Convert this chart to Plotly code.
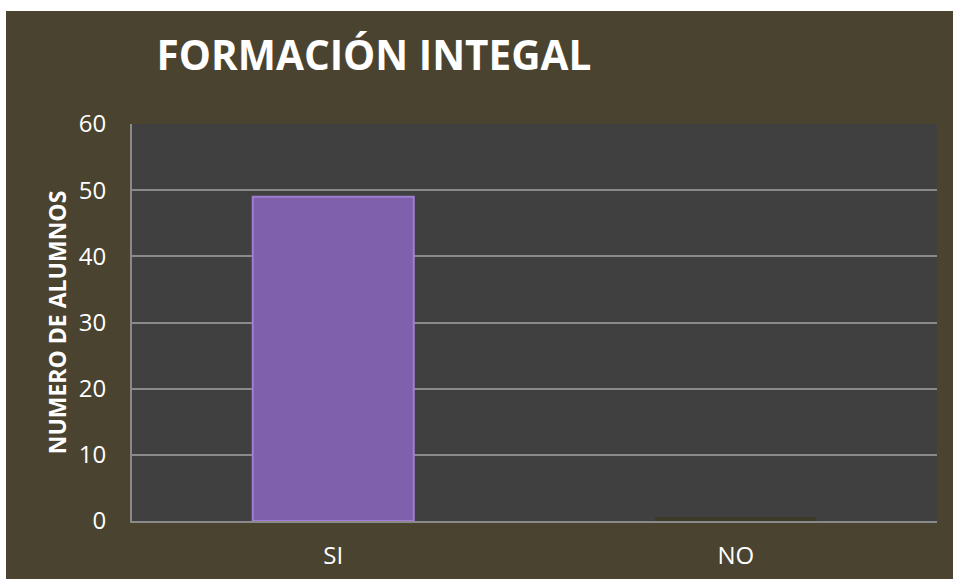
import plotly.graph_objects as go

categories = ["SI", "NO"]
alumnos = [49, 0]
y_ticks = [0, 10, 20, 30, 40, 50, 60]

OLIVE = "#4a4330"
PLOT_BG = "#404040"
GRID = "#8a8a8a"

fig = go.Figure()
fig.add_trace(go.Bar(
    x=categories,
    y=alumnos,
    marker=dict(
        color=["#7f60ad", "#3e3d27"],
        line=dict(color=["#a07ed3", "#3a3a26"], width=[2, 8]),
    ),
    width=0.4,
))

fig.update_layout(
    width=947,
    height=568,
    paper_bgcolor=OLIVE,
    plot_bgcolor=PLOT_BG,
    margin=dict(l=126, r=16, t=113, b=58, autoexpand=False),
    showlegend=False,
    font=dict(family="Open Sans", color="white", size=24),
    title=dict(
        text="<b>FORMACIÓN INTEGAL</b>",
        x=0.159, xanchor="left",
        y=0.921, yanchor="middle",
        font=dict(family="Open Sans", size=40.5, color="white"),
    ),
)
fig.update_yaxes(
    range=[0, 60],
    tickvals=y_ticks,
    showgrid=True, gridcolor=GRID, gridwidth=2,
    showline=True, linecolor=GRID, linewidth=2,
    zeroline=False, automargin=False,
    ticks="", ticklabelstandoff=19,
    title=dict(text="<b>NUMERO DE ALUMNOS</b>", font=dict(size=23, color="white"), standoff=6),
)
fig.update_xaxes(
    showline=True, linecolor=GRID, linewidth=2,
    automargin=False,
    ticks="", ticklabelstandoff=12,
)

fig.write_html("out.html", post_script="document.body.style.margin='11px 0 0 6px';")
